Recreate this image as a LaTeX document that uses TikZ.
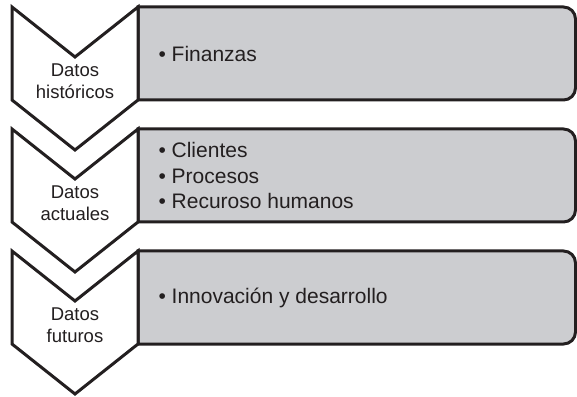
\documentclass[tikz,border=0pt]{standalone}
\usepackage{fontspec}
\setmainfont{Liberation Sans}
\definecolor{boxgray}{RGB}{204,205,208}
\definecolor{ink}{RGB}{35,31,32}
\begin{document}
\begin{tikzpicture}[x=1pt,y=1pt,
  chev/.style={draw=ink, fill=white, line width=3pt, line join=miter},
  panel/.style={draw=ink, fill=boxgray, line width=3pt},
  lab/.style={font=\fontsize{18.5}{21.5}\selectfont, align=center, inner sep=0pt, anchor=north, text=ink},
  items/.style={font=\fontsize{21}{25.5}\selectfont, align=left, inner sep=0pt, anchor=west, text=ink}]
\useasboundingbox (0,0) rectangle (577,396);
\foreach \t/\b in {389/296, 267/174, 145/52} {
  \draw[panel] (138,\t) -- (563.5,\t) arc[start angle=90,end angle=0,radius=12]
    -- (575.5,\b+12) arc[start angle=0,end angle=-90,radius=12] -- (138,\b) -- cycle;
  \draw[chev] (12,\t) -- (75,\t-50) -- (138,\t) -- (138,\b) -- (75,\b-50) -- (12,\b) -- cycle;
}
\node[lab] (l1) at (75,389-56.8) {Datos\\históricos};
\node[lab] (l2) at (75,267-56.8) {Datos\\actuales};
\node[lab] (l3) at (75,145-56.8) {Datos\\futuros};
\node[items] (r1) at (158.3,342.5) {• Finanzas};
\node[items] (r2) at (158.3,220.5) {• Clientes\\• Procesos\\• Recuroso humanos};
\node[items] (r3) at (158.3,98.5) {• Innovación y desarrollo};
\end{tikzpicture}
\end{document}
